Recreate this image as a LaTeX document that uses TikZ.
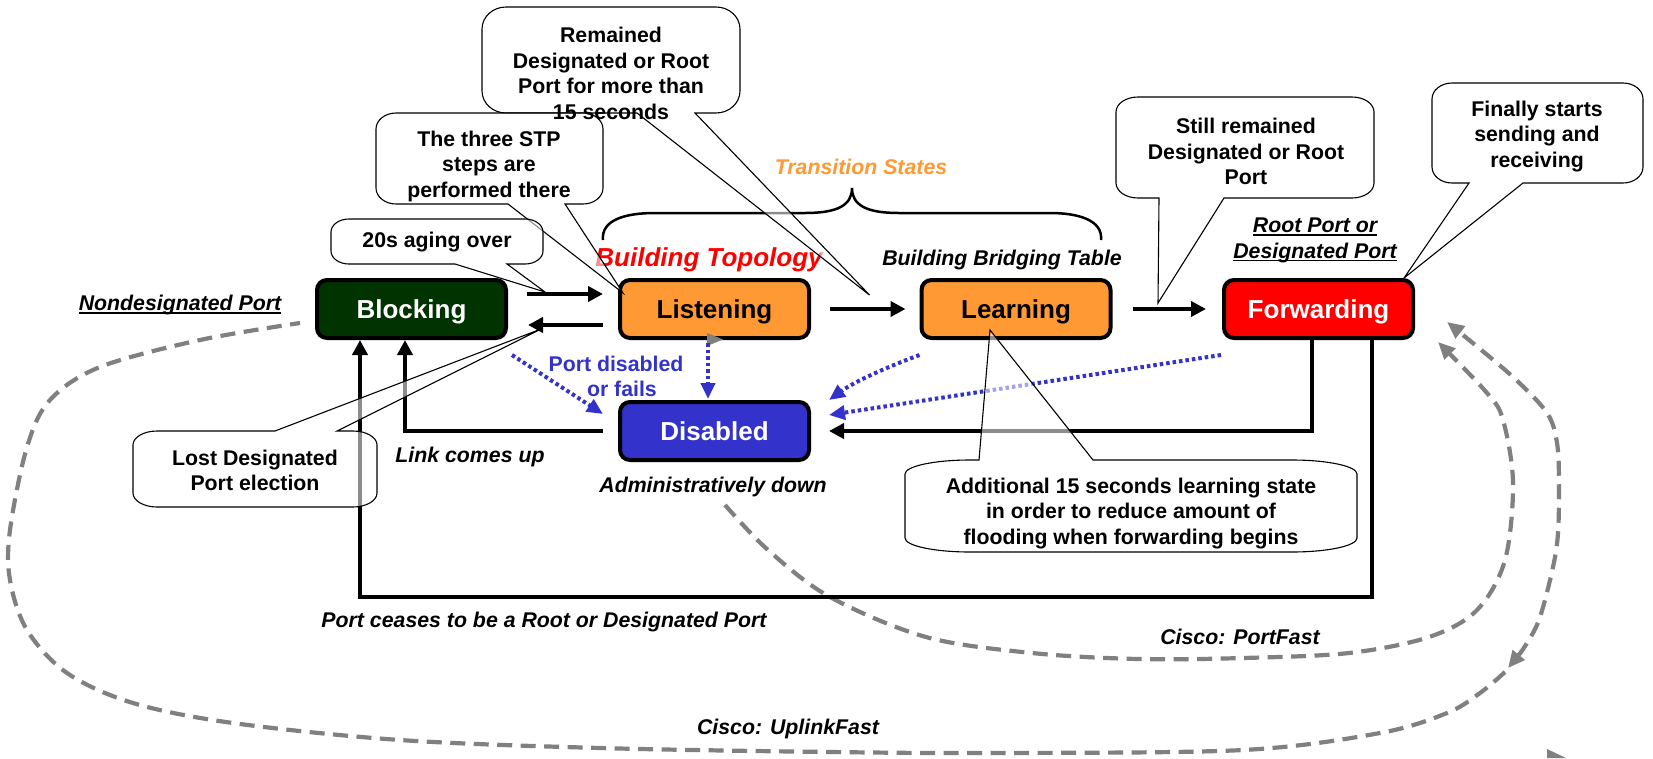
\documentclass[tikz,border=0pt]{standalone}
\usepackage{fontspec}
\setmainfont{Liberation Sans}
\usetikzlibrary{arrows.meta}

\definecolor{stpgreen}{RGB}{0,51,0}
\definecolor{stporange}{RGB}{255,153,51}
\definecolor{stpred}{RGB}{255,0,0}
\definecolor{stpblue}{RGB}{51,51,204}
\definecolor{stpgray}{RGB}{128,128,128}

\newcommand{\statefont}{\fontsize{26}{30}\selectfont\bfseries}
\newcommand{\notefont}{\fontsize{21.3}{25.5}\selectfont\bfseries}
\newcommand{\labelfont}{\fontsize{21.3}{25.5}\selectfont\bfseries\itshape}
\newcommand{\uln}[1]{\setbox0\hbox{#1}\rlap{\rule[-3pt]{\wd0}{1.5pt}}\box0}

% speech bubble with elliptic corners; wedge on the bottom edge
% #1,#2 top-left  #3,#4 bottom-right  #5,#6 corner radii  #7,#8 wedge base  #9 tip
\newcommand{\noteBelow}[9]{%
  \filldraw[bubble] ({#1+#5},#2) -- ({#3-#5},#2)
    .. controls ({#3-0.4477*#5},#2) and (#3,{#2+0.4477*#6}) .. (#3,{#2+#6})
    -- (#3,{#4-#6})
    .. controls (#3,{#4-0.4477*#6}) and ({#3-0.4477*#5},#4) .. ({#3-#5},#4)
    -- (#8,#4) -- (#9) -- (#7,#4) -- ({#1+#5},#4)
    .. controls ({#1+0.4477*#5},#4) and (#1,{#4-0.4477*#6}) .. (#1,{#4-#6})
    -- (#1,{#2+#6})
    .. controls (#1,{#2+0.4477*#6}) and ({#1+0.4477*#5},#2) .. ({#1+#5},#2)
    -- cycle;}
% same bubble, wedge on the top edge
\newcommand{\noteAbove}[9]{%
  \filldraw[bubble] ({#1+#5},#2) -- (#7,#2) -- (#9) -- (#8,#2) -- ({#3-#5},#2)
    .. controls ({#3-0.4477*#5},#2) and (#3,{#2+0.4477*#6}) .. (#3,{#2+#6})
    -- (#3,{#4-#6})
    .. controls (#3,{#4-0.4477*#6}) and ({#3-0.4477*#5},#4) .. ({#3-#5},#4)
    -- ({#1+#5},#4)
    .. controls ({#1+0.4477*#5},#4) and (#1,{#4-0.4477*#6}) .. (#1,{#4-#6})
    -- (#1,{#2+#6})
    .. controls (#1,{#2+0.4477*#6}) and ({#1+0.4477*#5},#2) .. ({#1+#5},#2)
    -- cycle;}

\tikzset{
  state/.style={draw=black, line width=4pt, rounded corners=10pt,
    minimum width=189pt, minimum height=58pt, inner sep=0pt,
    font=\statefont, text height=18.6pt, text depth=0pt},
  lbl/.style={font=\labelfont, inner sep=0pt, text height=15.2pt, text depth=0pt},
  lbltwo/.style={font=\labelfont, inner sep=0pt, align=center},
  note/.style={font=\notefont, inner sep=0pt, align=center},
  flow/.style={draw=black, line width=4pt, -{Triangle[length=15pt,width=15pt]}},
  fail/.style={draw=stpblue, line width=4pt, dash pattern=on 3.5pt off 3pt,
    -{Triangle[length=16pt,width=14pt]}},
  gdash/.style={draw=stpgray, line width=4.2pt, dash pattern=on 15pt off 8.5pt},
  gtip/.style={-{Triangle[length=17pt,width=15pt]}},
  gtips/.style={{Triangle[length=17pt,width=15pt]}-{Triangle[length=17pt,width=15pt]}},
  bubble/.style={draw=black, line width=1.1pt, fill=white, fill opacity=0.55},
}

\begin{document}
\begin{tikzpicture}[x=1pt,y=-1pt]
\useasboundingbox (0,0) rectangle (1653,758);

% ---- Cisco shortcuts (grey dashed) ----
\draw[gdash,gtip] plot[smooth,tension=0.55] coordinates {(725,505) (768,550) (830,597)
  (926,637) (1032,653) (1138,659) (1243,658) (1349,653) (1429,637) (1477,610)
  (1505,560) (1513,483) (1503,420) (1487,393) (1438,342)};
\draw[gdash,gtips] plot[smooth,tension=0.55] coordinates {(1508,668) (1527,643)
  (1540,617) (1553,567) (1558,533) (1559,483) (1557,443) (1547,413) (1513,377)
  (1463,335) (1447,322)};
\draw[gdash] plot[smooth,tension=0.55] coordinates {(1505,672) (1480,693) (1447,713)
  (1380,733) (1243,750) (1000,753) (830,752) (600,748) (400,740) (233,723) (133,703)
  (67,673) (27,630) (10,580) (10,530) (27,447) (50,400) (100,367) (200,340) (300,323)};
\fill[stpgray] (1547,749) -- (1566,758) -- (1547,758) -- cycle;

% ---- port states ----
\node[state, fill=stpgreen, text=white] (blk) at (411.5,309) {Blocking};
\node[state, fill=stporange] (lst) at (714.5,309) {Listening};
\node[state, fill=stporange] (lrn) at (1016,309) {Learning};
\node[state, fill=stpred, text=white] (fwd) at (1318.5,309) {Forwarding};
\node[state, fill=stpblue, text=white] (dis) at (714.5,431) {Disabled};

\fill[stpgray] (707,333) -- (723,339.5) -- (707,346) -- cycle;

% ---- transitions ----
\draw[flow] ([xshift=19pt,yshift=15pt]blk.east) -- ([xshift=-15pt,yshift=15pt]lst.west);
\draw[flow] ([xshift=-15pt,yshift=-16pt]lst.west) -- ([xshift=20pt,yshift=-16pt]blk.east);
\draw[flow] ([xshift=19pt]lst.east) -- ([xshift=-14pt]lrn.west);
\draw[flow] ([xshift=20pt]lrn.east) -- ([xshift=-16pt]fwd.west);
\draw[flow] ([xshift=-6.5pt]fwd.south) |- ([xshift=18pt]dis.east);
\draw[flow] ([xshift=-15pt]dis.west) -| ([xshift=-6.5pt]blk.south);
\draw[flow] ([xshift=53.5pt]fwd.south) -- ++(0,257) -| ([xshift=-51.5pt]blk.south);

% ---- port disabled or fails ----
\draw[fail] ([xshift=4pt,yshift=-15pt]blk.south east) -- ([xshift=-15pt,yshift=-14pt]dis.north west);
\draw[fail] ([xshift=-6.5pt,yshift=-3pt]lst.south) -- ([xshift=-6.5pt,yshift=1pt]dis.north);
\draw[fail] ([yshift=-15pt]lrn.south west) .. controls +(-35,13) and +(25,-18) .. ([xshift=18pt]dis.north east);
\draw[fail] ([xshift=-1pt,yshift=-15pt]fwd.south west) -- ([xshift=18pt,yshift=16pt]dis.east);

% ---- brace over the transition states ----
\draw[line width=2.5pt] (603,240) .. controls (601,220) and (625,213) .. (655,213)
  -- (805,213) .. controls (838,213) and (852,205) .. (852,188)
  .. controls (852,205) and (866,213) .. (899,213) -- (1050,213)
  .. controls (1078,213) and (1103,220) .. (1101,240);

% ---- labels ----
\node[lbl] (nondes) at (180,303) {\uln{Nondesignated Port}};
\node[lbltwo] (rootdes) at (1315,240.5) {\uln{Root Port or}\\\uln{Designated Port}};
\node[lbl, text=stporange] (trans) at (861,167) {Transition States};
\node[lbl, font=\fontsize{26}{30}\selectfont\bfseries\itshape, text height=18.6pt, text=stpred] (btopo) at (709,257) {Building Topology};
\node[lbl] (bbridge) at (1002,258) {Building Bridging Table};
\node[note, text=stpblue] (pdis) at (616,376.5) {Port disabled\\\ \ or fails};
\node[lbl] (linkup) at (470,455) {Link comes up};
\node[lbl] (admdown) at (713,485) {Administratively down};
\node[lbl] (ceases) at (544,620) {Port ceases to be a Root or Designated Port};
\node[lbl] (portfast) at (1240,637) {Cisco: PortFast};
\node[lbl] (uplink) at (788,727) {Cisco: UplinkFast};

% ---- explanatory bubbles ----
\noteBelow{482}{7}{740}{113}{24}{22}{637}{695}{[xshift=-50pt,yshift=14pt]lrn.west}
\noteBelow{376}{113}{603}{204}{20}{16}{508}{565}{[xshift=5pt,yshift=-15pt]lst.north west}
\noteBelow{331}{219}{543}{264}{18}{13}{455}{507}{[xshift=37pt,yshift=17pt]blk.east}
\noteBelow{1116}{97}{1374}{198}{22}{15}{1159}{1224}{[xshift=-64pt,yshift=6pt]fwd.west}
\noteBelow{1432}{83}{1643}{183}{20}{16}{1469}{1523}{[xshift=-11pt]fwd.north east}
\noteAbove{133}{431}{377}{507}{24}{14}{275}{337}{[xshift=33pt,yshift=-20pt]blk.east}
\noteAbove{905}{460}{1357}{552}{65}{14}{979}{1093}{[xshift=-26pt,yshift=10pt]lrn.south}

\node[note] (n1) at (611,73.5) {Remained\\Designated or Root\\Port for more than\\15 seconds};
\node[note] (n2) at (489,166) {The three STP\\steps are\\performed there};
\node[note] (n3) at (437,242) {20s aging over};
\node[note] (n4) at (1246,151.5) {Still remained\\Designated or Root\\Port};
\node[note] (n5) at (1537,136.5) {Finally starts\\sending and\\receiving};
\node[note] (n6) at (255,470.5) {Lost Designated\\Port election};
\node[note] (n7) at (1131,513.5) {Additional 15 seconds learning state\\in order to reduce amount of\\flooding when forwarding begins};
\end{tikzpicture}
\end{document}
